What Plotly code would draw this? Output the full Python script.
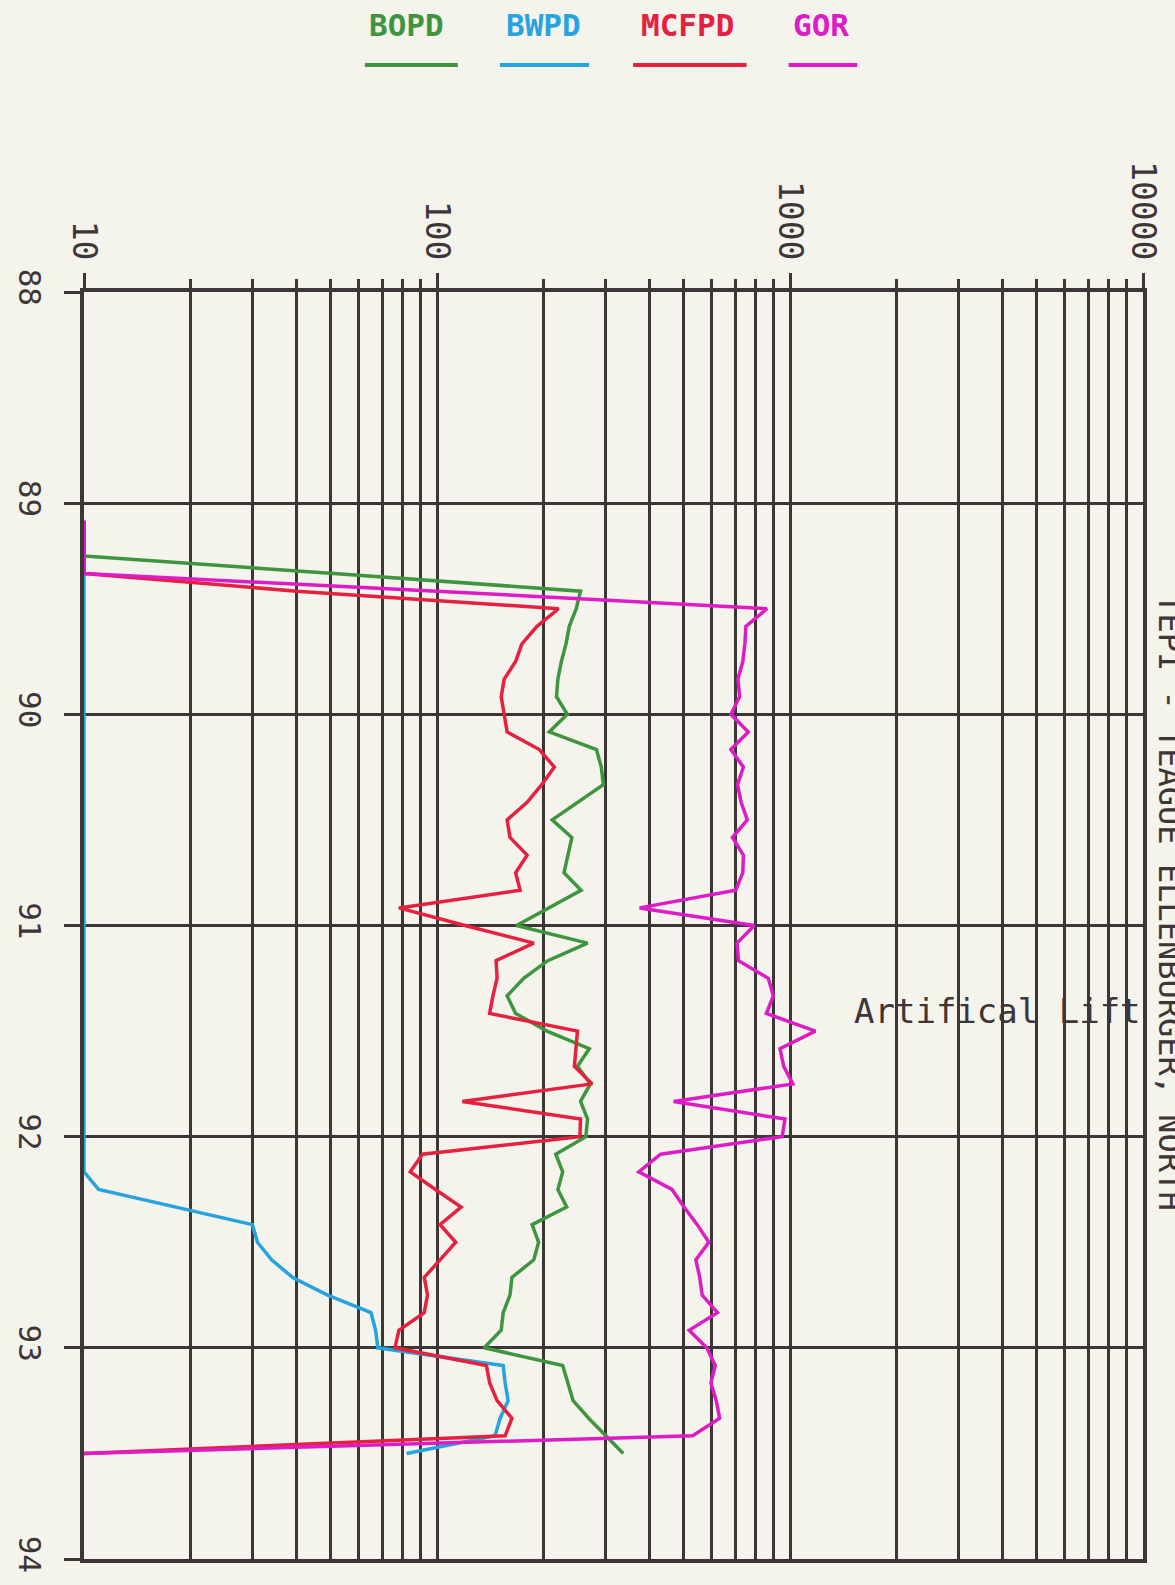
import plotly.graph_objects as go

# ---- data (monthly, month index counted from Jan 1989 = 0) ----
month_index = list(range(1, 55))
year_pos = [89 + m / 12 for m in month_index]

bopd = [10, 10, 10, 51, 255, 248, 237, 232, 225, 220,
        218, 234, 208, 283, 292, 296, 251, 212, 241, 235,
        229, 256, 208, 168, 267, 206, 176, 158, 167, 205,
        270, 250, 272, 255, 267, 264, 217, 227, 220, 233,
        186, 194, 188, 163, 161, 154, 152, 136, 227, 235,
        243, 269, 302, 337]

bwpd = [10, 10, 10, 10, 10, 10, 10, 10, 10, 10,
        10, 10, 10, 10, 10, 10, 10, 10, 10, 10,
        10, 10, 10, 10, 10, 10, 10, 10, 10, 10,
        10, 10, 10, 10, 10, 10, 10, 10, 11, 18,
        30, 31, 34, 39, 49, 65, 67, 68, 154, 156,
        159, 151, 146, 82]

mcfpd = [10, 10, 10, 10, 40, 221, 192, 174, 167, 155,
         152, 155, 158, 195, 215, 198, 180, 158, 161, 180,
         167, 172, 78, 120, 188, 147, 148, 144, 141, 250,
         248, 245, 275, 118, 255, 254, 91, 84, 99, 117,
         102, 113, 102, 92, 94, 92, 78, 76, 138, 141,
         148, 163, 156, 10]

gor = [10, 10, 10, 10, 100, 860, 750, 745, 735, 712,
       720, 680, 762, 680, 738, 710, 727, 757, 687, 738,
       735, 702, 375, 792, 708, 715, 868, 897, 857, 1180,
       937, 960, 1019, 468, 968, 950, 430, 373, 463, 501,
       546, 589, 541, 555, 564, 623, 518, 581, 614, 597,
       618, 632, 530, 10]

year_ticks = [88, 89, 90, 91, 92, 93, 94]
year_labels = ["88", "89", "90", "91", "92", "93", "94"]
decade_ticks = [10, 100, 1000, 10000]
decade_labels = ["10", "100", "1000", "10000"]
grid_ticks = [m * d for d in (10, 100, 1000) for m in range(1, 10)] + [10000]

series_names = ["BWPD", "BOPD", "MCFPD", "GOR"]
series_values = [bwpd, bopd, mcfpd, gor]
series_colors = ["#27a3dd", "#3d963d", "#e6203f", "#dd1cc6"]

# ---- styling ----
W, H = 1175, 1585
L, R, T, B = 72, 21, 292, 21
BG = "#f4f3ec"
GRID = "#3e3537"
FONT = "DejaVu Sans Mono"


def px_x(p):
    return (p - L) / (W - L - R)


def px_y(p):
    return 1 - (p - T) / (H - T - B)


fig = go.Figure()
for name, vals, col in zip(series_names, series_values, series_colors):
    fig.add_trace(go.Scatter(x=vals, y=year_pos, mode="lines", name=name,
                             line=dict(color=col, width=3.5), showlegend=False))

# invisible trace to activate decade-label axis
fig.add_trace(go.Scatter(x=[100], y=[90], xaxis="x2", mode="markers",
                         marker=dict(opacity=0), hoverinfo="skip", showlegend=False))

fig.update_layout(
    width=W, height=H,
    margin=dict(l=L, r=R, t=T, b=B, pad=0),
    paper_bgcolor=BG, plot_bgcolor=BG,
    xaxis=dict(type="log", range=[1, 4], side="top",
               tickvals=grid_ticks, ticktext=["" for _ in grid_ticks],
               ticks="outside", ticklen=9, tickwidth=3, tickcolor=GRID,
               showgrid=True, gridcolor=GRID, gridwidth=3,
               showline=True, mirror=True, linecolor=GRID, linewidth=3.5,
               zeroline=False),
    xaxis2=dict(type="log", range=[1, 4], side="top", overlaying="x", anchor="y",
                tickvals=decade_ticks, ticktext=decade_labels,
                ticks="outside", ticklen=18, tickwidth=3, tickcolor=GRID,
                tickangle=90, ticklabelstandoff=1,
                tickfont=dict(family=FONT, size=33, color=GRID),
                showgrid=False, showline=False, zeroline=False),
    yaxis=dict(range=[94, 88], tickvals=year_ticks, ticktext=year_labels,
               ticks="outside", ticklen=16, tickwidth=3, tickcolor=GRID,
               tickangle=90, ticklabelstandoff=8,
               tickfont=dict(family=FONT, size=31, color=GRID),
               showgrid=True, gridcolor=GRID, gridwidth=3,
               showline=True, mirror=True, linecolor=GRID, linewidth=3.5,
               zeroline=False),
)

# manual legend: text above a short line sample
legend_items = [("BOPD", "#3d963d", 402, 359, 454),
                ("BWPD", "#27a3dd", 541, 497, 588),
                ("MCFPD", "#e6203f", 689, 633, 749),
                ("GOR", "#dd1cc6", 825, 792, 862)]
for text, col, cx, x0, x1 in legend_items:
    fig.add_annotation(text=text, xref="paper", yref="paper",
                       x=px_x(cx), y=px_y(24), xanchor="center", yanchor="middle",
                       showarrow=False,
                       font=dict(family=FONT, size=31, color=col, weight="bold"))
    fig.add_shape(type="line", xref="paper", yref="paper",
                  x0=px_x(x0), x1=px_x(x1), y0=px_y(64), y1=px_y(64),
                  line=dict(color=col, width=4))

fig.add_annotation(text="Artifical Lift", xref="paper", yref="paper",
                   x=1.0, y=px_y(1014), xanchor="right", yanchor="middle",
                   showarrow=False, font=dict(family=FONT, size=34, color=GRID))

fig.add_annotation(text="TEPI - TEAGUE ELLENBURGER, NORTH", xref="paper", yref="paper",
                   x=px_x(1182), y=px_y(905), xanchor="center", yanchor="middle",
                   textangle=90, showarrow=False,
                   font=dict(family=FONT, size=32, color=GRID))

fig.write_html("out.html",
               config={"displayModeBar": False},
               post_script="document.body.style.margin='0px';"
                           "document.body.style.overflow='hidden';")
